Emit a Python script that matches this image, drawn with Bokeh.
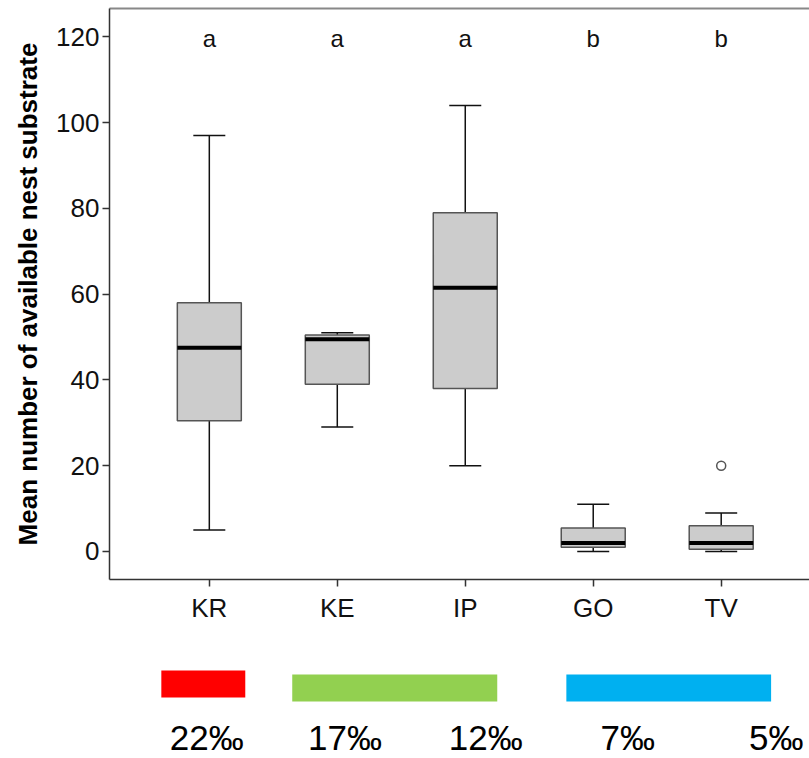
from bokeh.plotting import figure
from bokeh.layouts import column
from bokeh.models import Range1d, LinearAxis, FixedTicker, ColumnDataSource
from bokeh.core.properties import value
from bokeh.embed import file_html
from bokeh.resources import INLINE

# ---- data ----
sites = ["KR", "KE", "IP", "GO", "TV"]
whisker_low = [5, 29, 20, 0, 0]
q1 = [30.5, 39, 38, 1.0, 0.5]
median = [47.5, 49.5, 61.5, 2.0, 2.0]
q3 = [58, 50.5, 79, 5.5, 6.0]
whisker_high = [97, 51, 104, 11, 9]
outlier_site = ["TV"]
outlier_value = [20]
letters = ["a", "a", "a", "b", "b"]
letter_y = 119.5

salinity_labels = ["22‰", "17‰", "12‰", "7‰", "5‰"]
salinity_label_x = [-0.02, 1.06, 2.16, 3.27, 4.43]
band_start = [-0.375, 0.648, 2.79]
band_end = [0.281, 2.25, 4.39]
band_color = ["#ff0000", "#92d050", "#00b0f0"]

FONT = "Liberation Sans"
xs = list(range(len(sites)))
idx = {s: i for i, s in enumerate(sites)}

x_range = Range1d(-0.78, 4.69)

p = figure(width=809, height=640, output_backend="svg", toolbar_location=None,
           x_range=x_range, y_range=Range1d(-6.53, 126.6),
           min_border_left=109, min_border_right=0, min_border_top=8,
           min_border_bottom=61, x_axis_location=None, y_axis_location=None)
p.outline_line_color = None
p.xgrid.visible = False
p.ygrid.visible = False
p.background_fill_color = "white"
p.border_fill_color = "white"

# left axis
ya = LinearAxis(ticker=FixedTicker(ticks=[0, 20, 40, 60, 80, 100, 120]))
ya.axis_label = "Mean number of available nest substrate"
ya.axis_label_text_font = FONT
ya.axis_label_text_font_style = "bold"
ya.axis_label_text_font_size = "26px"
ya.axis_label_text_color = "#000000"
ya.axis_label_standoff = 10
ya.major_label_text_font = FONT
ya.major_label_text_font_size = "26px"
ya.major_label_text_color = "#111111"
ya.major_label_standoff = 3
ya.major_tick_in = 0
ya.major_tick_out = 7
ya.minor_tick_line_color = None
ya.axis_line_color = "#333333"
ya.axis_line_width = 1.5
ya.major_tick_line_color = "#333333"
ya.major_tick_line_width = 1.5
p.add_layout(ya, "left")

# bottom axis
xa = LinearAxis(ticker=FixedTicker(ticks=xs))
xa.major_label_overrides = {i: s for i, s in enumerate(sites)}
xa.major_label_text_font = FONT
xa.major_label_text_font_size = "26px"
xa.major_label_text_color = "#111111"
xa.major_label_standoff = 6
xa.major_tick_in = 0
xa.major_tick_out = 7
xa.minor_tick_line_color = None
xa.axis_line_color = "#333333"
xa.axis_line_width = 1.5
xa.major_tick_line_color = "#333333"
xa.major_tick_line_width = 1.5
p.add_layout(xa, "below")

# top border line
ta = LinearAxis(ticker=FixedTicker(ticks=[]))
ta.major_label_text_font_size = "0px"
ta.major_tick_line_color = None
ta.minor_tick_line_color = None
ta.axis_line_color = "#888888"
ta.axis_line_width = 2
p.add_layout(ta, "above")

src = ColumnDataSource(dict(x=xs, lo=whisker_low, q1=q1, med=median, q3=q3, hi=whisker_high,
                            lab=letters, ly=[letter_y] * len(sites)))

box_w = 0.5
cap_w = 0.25
# whiskers
p.segment(x0="x", y0="q3", x1="x", y1="hi", source=src, line_color="#111111", line_width=1.5)
p.segment(x0="x", y0="q1", x1="x", y1="lo", source=src, line_color="#111111", line_width=1.5)
cap_src = ColumnDataSource(dict(x0=[x - cap_w / 2 for x in xs], x1=[x + cap_w / 2 for x in xs],
                                lo=whisker_low, hi=whisker_high))
p.segment(x0="x0", y0="hi", x1="x1", y1="hi", source=cap_src, line_color="#111111", line_width=1.5)
p.segment(x0="x0", y0="lo", x1="x1", y1="lo", source=cap_src, line_color="#111111", line_width=1.5)
# boxes
p.vbar(x="x", bottom="q1", top="q3", width=box_w, source=src,
       fill_color="#cccccc", line_color="#555555", line_width=1.5)
# medians
med_src = ColumnDataSource(dict(x0=[x - box_w / 2 for x in xs], x1=[x + box_w / 2 for x in xs], m=median))
p.segment(x0="x0", y0="m", x1="x1", y1="m", source=med_src, line_color="#000000", line_width=4)
# outlier
p.scatter(x=[idx[s] for s in outlier_site], y=outlier_value, size=9, marker="circle",
          fill_color="white", line_color="#555555", line_width=1.5)
# letters
p.text(x="x", y="ly", text="lab", source=src, text_align="center", text_baseline="middle",
       text_font=value(FONT), text_font_size="24px", text_color="#111111")

# ---- salinity strip ----
q = figure(width=809, height=118, output_backend="svg", toolbar_location=None,
           x_range=x_range, y_range=Range1d(118, 0),
           min_border_left=109, min_border_right=0, min_border_top=0, min_border_bottom=0,
           x_axis_location=None, y_axis_location=None)
q.outline_line_color = None
q.xgrid.visible = False
q.ygrid.visible = False
band_src = ColumnDataSource(dict(l=band_start, r=band_end, c=band_color,
                                 t=[30, 34, 34], b=[57, 61, 61]))
q.quad(left="l", right="r", top="t", bottom="b", fill_color="c", line_color=None, source=band_src)
q.text(x=salinity_label_x, y=[97] * len(salinity_label_x), text=salinity_labels,
       text_align="center", text_baseline="middle", text_font=value(FONT),
       text_font_size="35px", text_color="#000000")

layout = column(p, q, spacing=0)
open("out.html", "w").write(file_html(layout, INLINE))
